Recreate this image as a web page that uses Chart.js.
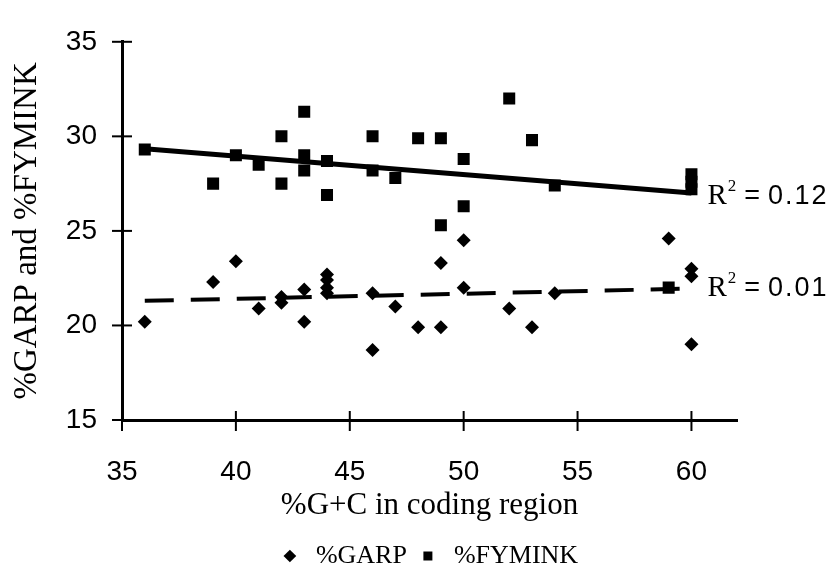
<!DOCTYPE html>
<html>
<head>
<meta charset="utf-8">
<script src="https://cdn.jsdelivr.net/npm/chart.js@4"></script>
<style>
  html, body { margin: 0; padding: 0; background: #fff; }
  #wrap { width: 839px; height: 584px; }
</style>
</head>
<body>
<div id="wrap"><canvas id="gcChart" width="839" height="584"></canvas></div>
<script>
// %GARP points
const garpX = [36, 39, 40, 41, 42, 42, 43, 43, 44, 44, 44, 44, 46, 46, 47, 48, 49, 49, 50, 50, 52, 53, 54, 59, 60, 60, 60];
const garpY = [20.2, 22.3, 23.4, 20.9, 21.5, 21.2, 21.9, 20.2, 22.7, 22.4, 22.0, 21.7, 21.7, 18.7, 21.0, 19.9, 19.9, 23.3, 24.5, 22.0, 20.9, 19.9, 21.7, 24.6, 23.0, 22.6, 19.0];

// %FYMINK points
const fymX = [36, 39, 40, 41, 42, 42, 43, 43, 43, 44, 44, 46, 46, 47, 48, 49, 49, 50, 50, 52, 53, 54, 59, 60, 60, 60];
const fymY = [29.3, 27.5, 29.0, 28.5, 30.0, 27.5, 31.3, 29.0, 28.2, 28.7, 26.9, 30.0, 28.2, 27.8, 29.9, 29.9, 25.3, 28.8, 26.3, 32.0, 29.8, 27.4, 22.0, 28.0, 27.6, 27.2];

// trend line end points
const trendX = [36, 60];
const garpTrend = [21.3, 21.95];
const fymTrend = [29.35, 27.0];

// R² labels, anchored next to the trend line ends at x = 60
const r2Values = ['0.12', '0.01'];
const r2AtY = [27.0, 22.15];

const xTicks = [35, 40, 45, 50, 55, 60];
const yTicks = [15, 20, 25, 30, 35];

const pts = (xs, ys) => xs.map((x, i) => ({ x: x, y: ys[i] }));

// Excel-style tick marks that cross the axis line, plus R² text
const axisExtras = {
  id: 'axisExtras',
  afterLayout(chart) {
    // centre the legend on the whole page and drop it a bit lower
    const lg = chart.legend;
    if (!lg) return;
    lg.left = 8; lg.right = 847; lg.width = 839;
    lg.top = 535; lg.bottom = 584; lg.height = 49;
  },
  afterDraw(chart) {
    const ctx = chart.ctx;
    const xs = chart.scales.x, ys = chart.scales.y;
    ctx.save();
    ctx.strokeStyle = '#000';
    ctx.lineWidth = 2;
    xTicks.forEach(v => {
      const px = xs.getPixelForValue(v);
      ctx.beginPath();
      ctx.moveTo(px, ys.bottom - 9);
      ctx.lineTo(px, ys.bottom + 11);
      ctx.stroke();
    });
    yTicks.forEach(v => {
      const py = ys.getPixelForValue(v);
      ctx.beginPath();
      ctx.moveTo(xs.left - 10, py);
      ctx.lineTo(xs.left + 10, py);
      ctx.stroke();
    });

    ctx.fillStyle = '#000';
    ctx.textBaseline = 'alphabetic';
    r2Values.forEach((val, i) => {
      let px = xs.getPixelForValue(60) + 16;
      const py = ys.getPixelForValue(r2AtY[i]) + 11;
      ctx.font = '29px "Liberation Serif"';
      ctx.fillText('R', px, py);
      px += ctx.measureText('R').width + 1;
      ctx.font = '17px "Liberation Serif"';
      ctx.fillText('2', px, py - 13);
      px += ctx.measureText('2').width + 8;
      ctx.font = '27px "Liberation Sans"';
      ctx.fillText('=', px, py);
      px += ctx.measureText('=').width + 8;
      ctx.letterSpacing = '2px';
      ctx.fillText(val, px, py);
      ctx.letterSpacing = '0px';
    });
    ctx.restore();
  }
};

new Chart(document.getElementById('gcChart'), {
  type: 'scatter',
  data: {
    datasets: [{
      label: '%GARP',
      data: pts(garpX, garpY),
      pointStyle: 'rectRot',
      radius: 7,
      backgroundColor: '#000',
      borderColor: '#000',
      borderWidth: 0
    }, {
      label: '%FYMINK',
      data: pts(fymX, fymY),
      pointStyle: 'rect',
      radius: 8.5,
      backgroundColor: '#000',
      borderColor: '#000',
      borderWidth: 0
    }, {
      label: 'GARP trend',
      data: pts(trendX, garpTrend),
      showLine: true,
      pointRadius: 0,
      borderColor: '#000',
      borderWidth: 4,
      borderDash: [29, 17]
    }, {
      label: 'FYMINK trend',
      data: pts(trendX, fymTrend),
      showLine: true,
      pointRadius: 0,
      borderColor: '#000',
      borderWidth: 5
    }]
  },
  options: {
    responsive: false,
    animation: false,
    layout: { padding: { top: 25, right: 102, bottom: 20, left: 0 } },
    plugins: {
      tooltip: { enabled: false },
      legend: {
        position: 'bottom',
        maxHeight: 24,
        labels: {
          usePointStyle: true,
          boxHeight: 9,
          color: '#000',
          padding: 8,
          font: { family: '"Liberation Serif"', size: 26 },
          filter: item => item.datasetIndex < 2
        }
      }
    },
    scales: {
      x: {
        type: 'linear',
        min: 35,
        max: 62,
        afterBuildTicks: axis => { axis.ticks = xTicks.map(v => ({ value: v })); },
        afterFit: axis => { axis.height = 120; },
        grid: { display: false, drawTicks: false },
        border: { color: '#000', width: 3 },
        ticks: {
          color: '#000',
          padding: 35,
          font: { family: '"Liberation Sans"', size: 28 }
        },
        title: {
          display: true,
          text: '%G+C in coding region',
          color: '#000',
          font: { family: '"Liberation Serif"', size: 31 },
          padding: { top: 0, bottom: 16 }
        }
      },
      y: {
        min: 15,
        max: 35,
        afterBuildTicks: axis => { axis.ticks = yTicks.map(v => ({ value: v })); },
        afterFit: axis => { axis.width = 122; },
        grid: { display: false, drawTicks: false },
        border: { color: '#000', width: 3 },
        ticks: {
          color: '#000',
          padding: 25,
          font: { family: '"Liberation Sans"', size: 28 }
        },
        title: {
          display: true,
          text: '%GARP and %FYMINK',
          color: '#000',
          font: { family: '"Liberation Serif"', size: 33 },
          padding: { top: 8, bottom: 0 }
        }
      }
    }
  },
  plugins: [axisExtras]
});
</script>
</body>
</html>
